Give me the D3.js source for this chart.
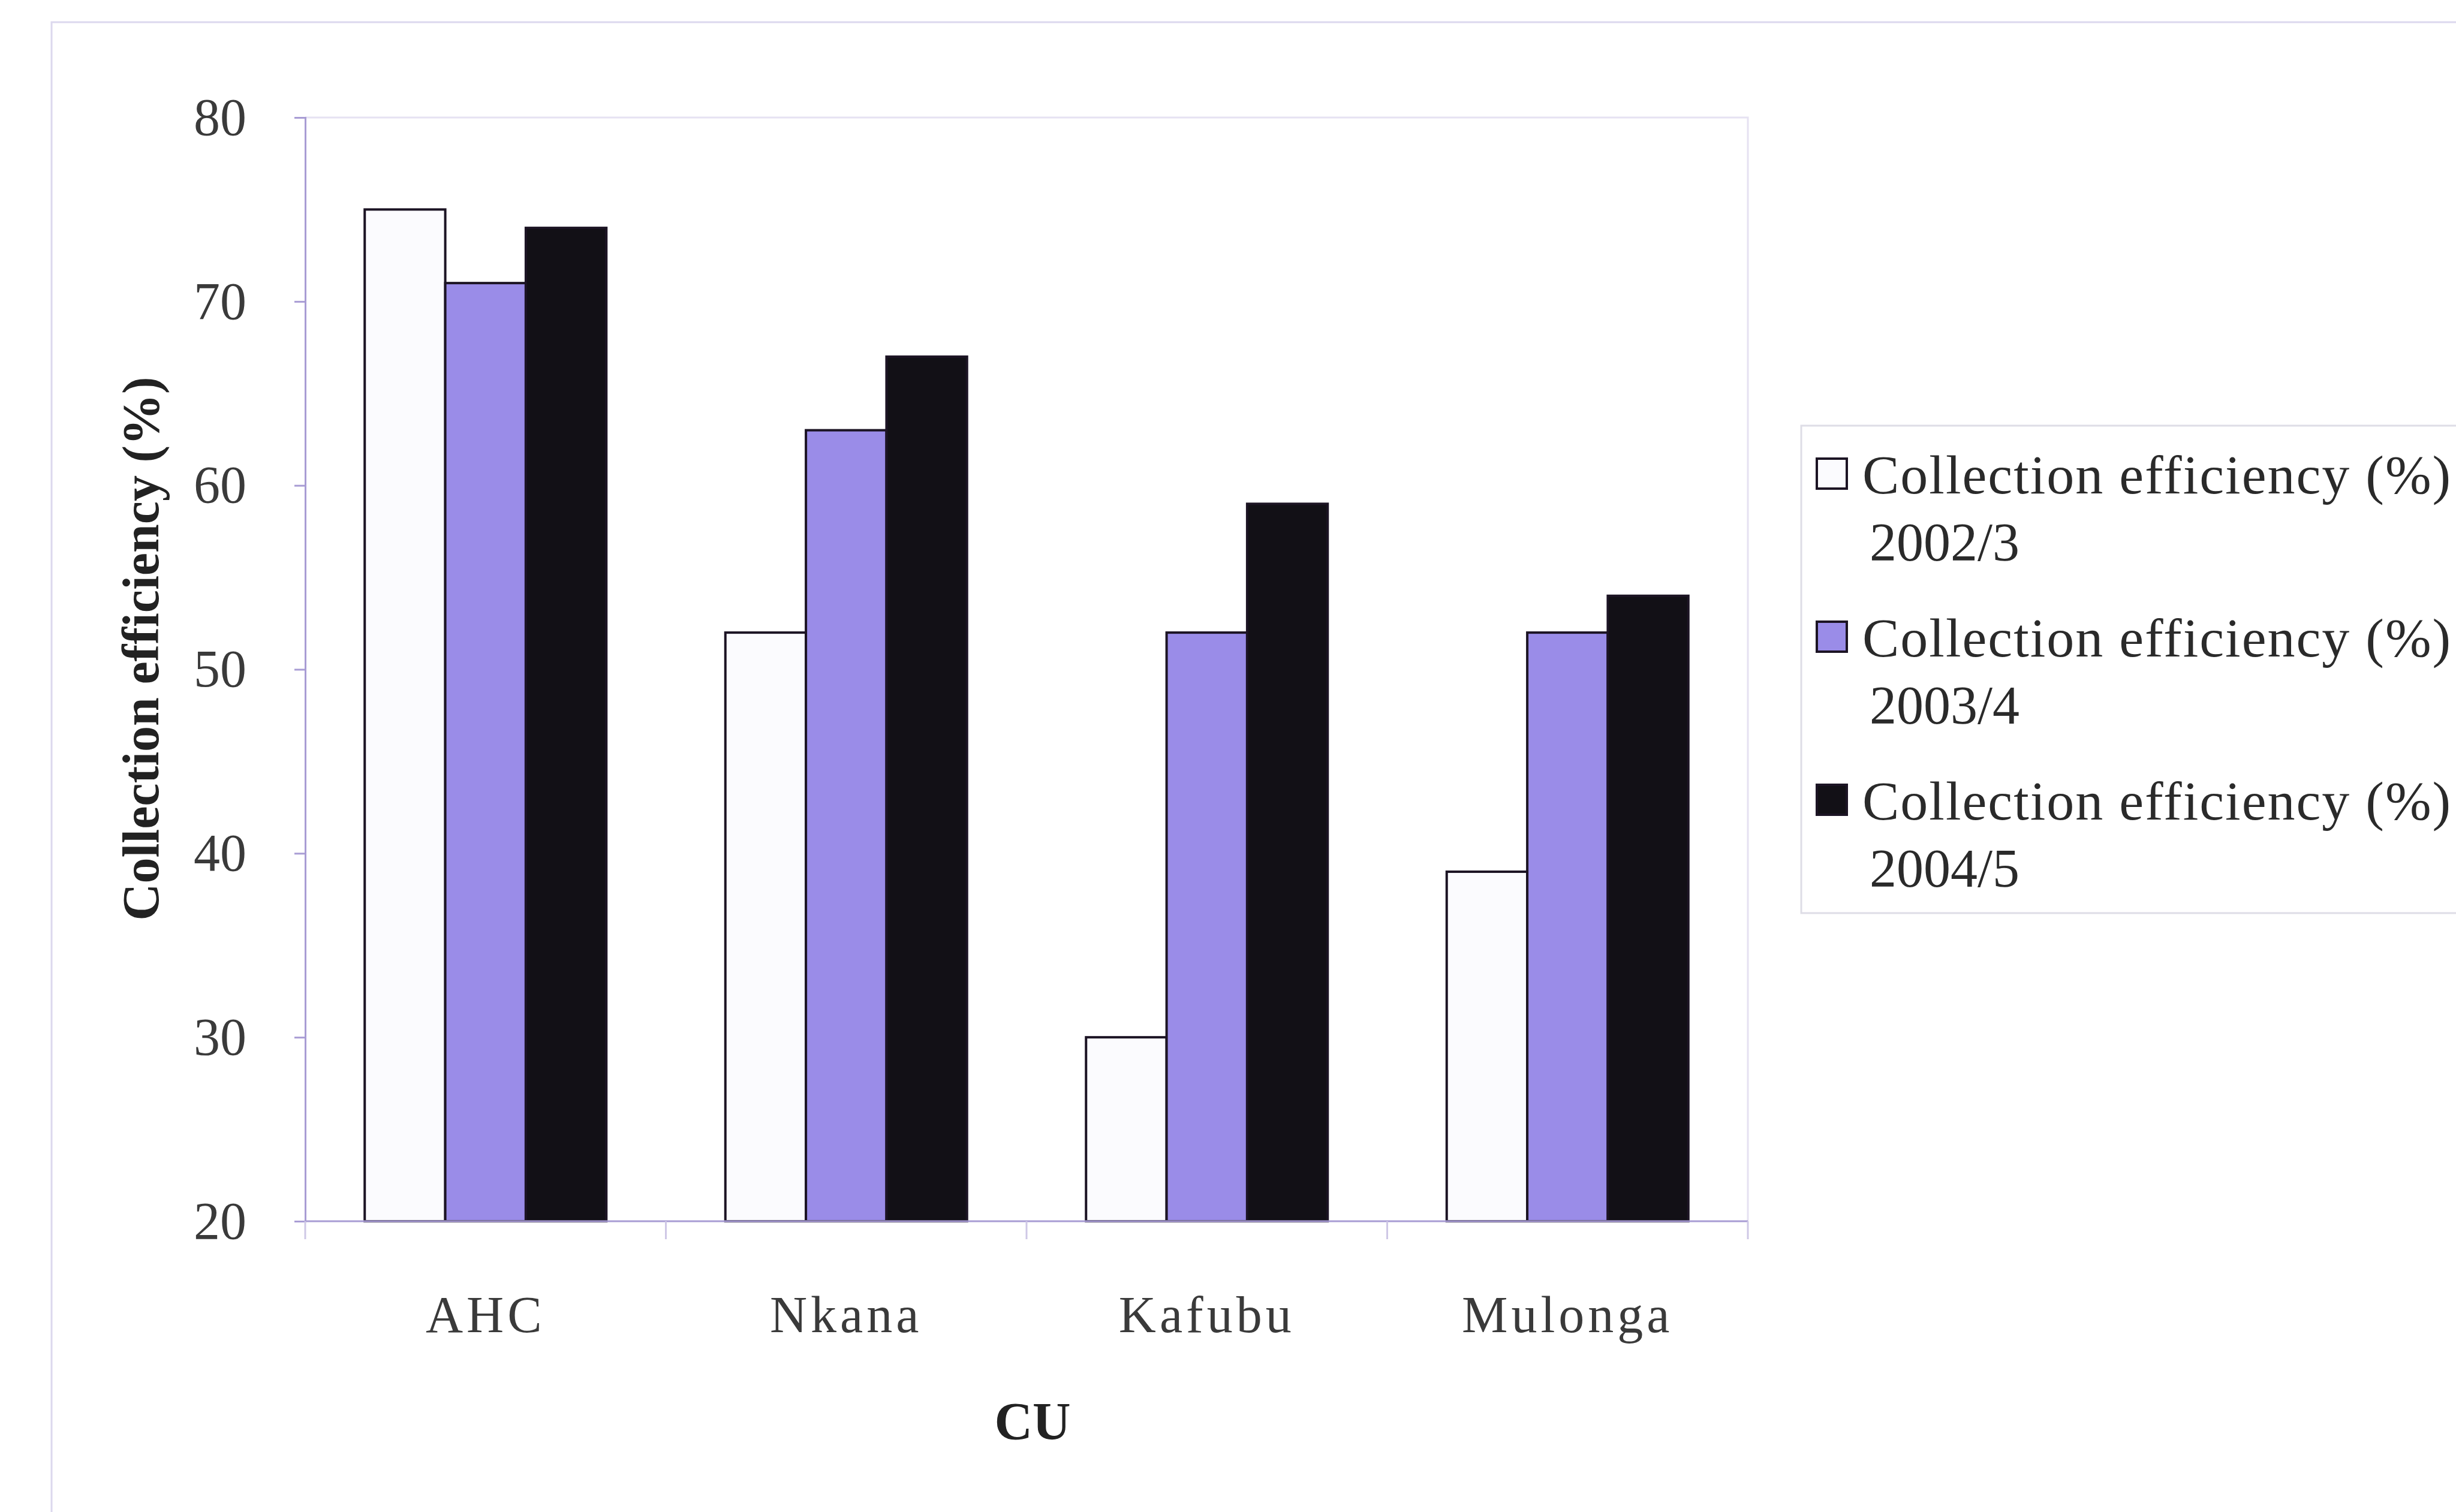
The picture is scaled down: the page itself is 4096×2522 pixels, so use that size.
<!DOCTYPE html>
<html>
<head>
<meta charset="utf-8">
<script src="https://cdn.jsdelivr.net/npm/d3@7"></script>
<style>
  html, body { margin: 0; padding: 0; background: #ffffff; }
  svg { display: block; }
  text { font-family: "Liberation Serif", "Times New Roman", serif; }
</style>
</head>
<body>
<svg id="chart" width="4096" height="2522"></svg>
<script>
// Collection efficiency by commercial utility (CU), three financial years
const categories = ["AHC", "Nkana", "Kafubu", "Mulonga"];
const seriesNames = ["2002/3", "2003/4", "2004/5"];
const eff2002 = [75, 52, 30, 39];
const eff2003 = [71, 63, 52, 52];
const eff2004 = [74, 67, 59, 54];
const yTicks = [20, 30, 40, 50, 60, 70, 80];
const seriesFill = ["#fbfbfe", "#9a8ce8", "#121016"];

const series = [eff2002, eff2003, eff2004];

const svg = d3.select("#chart");

// outer chart frame
svg.append("rect")
  .attr("x", 86).attr("y", 37)
  .attr("width", 4200).attr("height", 2600)
  .attr("fill", "none").attr("stroke", "#dcd8ee").attr("stroke-width", 3);

const plot = { left: 509, right: 2915, top: 196, bottom: 2037 };

const x0 = d3.scaleBand().domain(categories).range([plot.left, plot.right]).paddingInner(0.33).paddingOuter(0.165);
const x1 = d3.scaleBand().domain(d3.range(series.length)).range([0, x0.bandwidth()]);
const y = d3.scaleLinear().domain([20, 80]).range([plot.bottom, plot.top]);

// plot area outline (top and right edges)
svg.append("path")
  .attr("d", `M${plot.left},${plot.top}H${plot.right}V${plot.bottom}`)
  .attr("fill", "none").attr("stroke", "#e6e2f2").attr("stroke-width", 3);

// bars
categories.forEach((c, ci) => {
  series.forEach((vals, si) => {
    svg.append("rect")
      .attr("x", x0(c) + x1(si))
      .attr("y", y(vals[ci]))
      .attr("width", x1.bandwidth())
      .attr("height", y(20) - y(vals[ci]))
      .attr("fill", seriesFill[si])
      .attr("stroke", "#1c1424")
      .attr("stroke-width", 4);
  });
});

// y axis
const yAxis = svg.append("g")
  .attr("transform", `translate(${plot.left},0)`)
  .call(d3.axisLeft(y).tickValues(yTicks).tickSize(18).tickPadding(80).tickFormat(d3.format("d")));
yAxis.select(".domain").attr("stroke", "#a89cd4").attr("stroke-width", 3);
yAxis.selectAll(".tick line").attr("stroke", "#a89cd4").attr("stroke-width", 3);
yAxis.selectAll(".tick text")
  .attr("font-size", 88).attr("fill", "#3a3a3a")
  .attr("font-family", "Liberation Serif, serif");

// x axis: ticks at category boundaries
const xAxisG = svg.append("g").attr("transform", `translate(0,${plot.bottom})`);
xAxisG.append("line")
  .attr("x1", plot.left).attr("x2", plot.right)
  .attr("y1", 0).attr("y2", 0)
  .attr("stroke", "#a89cd4").attr("stroke-width", 3);
const step = x0.step();
const boundaries = categories.map((c, i) => x0(c) - x0.paddingInner() * step / 2)
  .concat([x0(categories[categories.length - 1]) + x0.bandwidth() + x0.paddingInner() * step / 2]);
xAxisG.selectAll("line.tick")
  .data(boundaries)
  .join("line")
  .attr("class", "tick")
  .attr("x1", d => d).attr("x2", d => d)
  .attr("y1", 0).attr("y2", 30)
  .attr("stroke", "#cfc8e6").attr("stroke-width", 3);
xAxisG.selectAll("text.cat")
  .data(categories)
  .join("text")
  .attr("class", "cat")
  .attr("x", d => x0(d) + x0.bandwidth() / 2)
  .attr("y", 2222 - plot.bottom)
  .attr("text-anchor", "middle")
  .attr("font-size", 86)
  .attr("letter-spacing", 6)
  .attr("fill", "#3a3a3a")
  .text(d => d);

// axis titles
svg.append("text")
  .attr("x", (plot.left + plot.right) / 2 + 10)
  .attr("y", 2400)
  .attr("text-anchor", "middle")
  .attr("font-size", 88).attr("font-weight", "bold").attr("fill", "#222")
  .text("CU");

svg.append("text")
  .attr("transform", "translate(264,1082) rotate(-90)")
  .attr("text-anchor", "middle")
  .attr("font-size", 86).attr("font-weight", "bold").attr("fill", "#222")
  .text("Collection efficiency (%)");

// legend
const legend = svg.append("g");
legend.append("rect")
  .attr("x", 3004).attr("y", 710)
  .attr("width", 1200).attr("height", 813)
  .attr("fill", "#ffffff").attr("stroke", "#dedde6").attr("stroke-width", 3);

seriesNames.forEach((name, i) => {
  const top = 765 + i * 272;
  legend.append("rect")
    .attr("x", 3030).attr("y", top)
    .attr("width", 50).attr("height", 50)
    .attr("fill", seriesFill[i])
    .attr("stroke", "#1c1424").attr("stroke-width", 4);
  legend.append("text")
    .attr("x", 3106).attr("y", top + 58)
    .attr("font-size", 92).attr("letter-spacing", 2).attr("fill", "#2a2a2a")
    .text("Collection efficiency (%)");
  legend.append("text")
    .attr("x", 3118).attr("y", top + 170)
    .attr("font-size", 90).attr("fill", "#2a2a2a")
    .text(name);
});
</script>
</body>
</html>
